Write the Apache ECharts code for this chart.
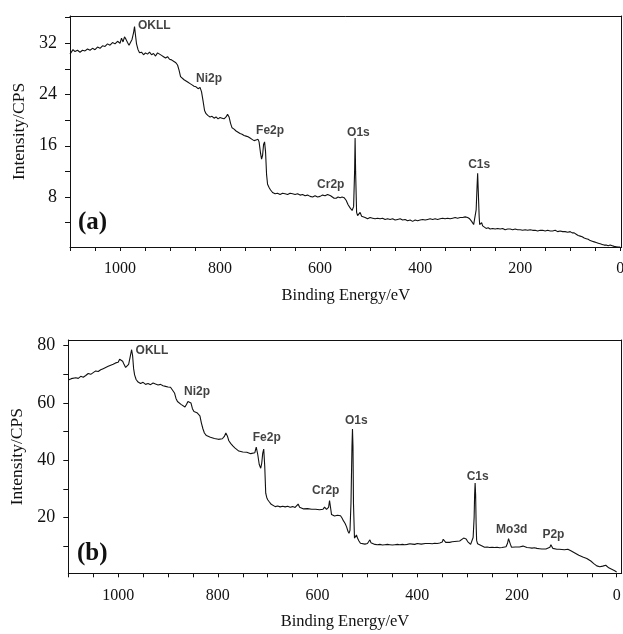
<!DOCTYPE html>
<html>
<head>
<meta charset="utf-8">
<script src="https://cdn.jsdelivr.net/npm/echarts@6/dist/echarts.min.js"></script>
<style>
  html, body { margin: 0; padding: 0; background: #fff; }
  #chart { width: 623px; height: 634px; }
</style>
</head>
<body>
<div id="chart"></div>
<script>
// XPS survey spectra, [binding energy eV, intensity CPS]
var spectrumA = [
  [1100, 30.3], [1097, 30.1], [1094, 31.0], [1090, 30.7], [1085, 30.9], [1080, 30.6], [1075, 30.9],
  [1070, 30.8], [1065, 31.1], [1060, 30.9], [1055, 31.2], [1050, 31.0], [1045, 31.4], [1040, 31.2],
  [1035, 31.6], [1030, 31.5], [1025, 31.9], [1020, 31.7], [1015, 32.1], [1010, 31.9], [1005, 32.3],
  [1000, 32.0], [997, 32.8], [994, 32.2], [991, 33.0], [988, 32.6], [985, 32.1], [982, 31.7],
  [979, 32.0], [976, 32.6], [973, 33.6], [971, 34.6], [969, 33.2], [967, 31.9], [964, 31.0],
  [961, 30.5], [957, 30.6], [953, 30.2], [949, 30.5], [945, 30.3], [941, 30.6], [937, 30.2],
  [933, 30.4], [929, 30.0], [925, 30.5], [921, 30.3], [917, 30.1], [913, 29.9], [909, 29.7],
  [905, 29.9], [901, 29.5], [897, 29.4], [893, 29.2], [889, 29.0], [885, 28.6], [882, 27.8],
  [879, 26.8], [876, 26.5], [872, 26.3], [868, 26.1], [864, 25.9], [860, 25.7], [856, 25.5],
  [852, 25.3], [848, 25.2], [844, 24.9], [840, 25.1], [837, 24.4], [834, 23.0], [831, 21.5],
  [828, 21.0], [824, 20.7], [820, 20.5], [816, 20.6], [812, 20.3], [808, 20.5], [804, 20.2],
  [800, 20.4], [796, 20.3], [792, 20.2], [788, 20.5], [785, 20.9], [782, 20.5], [779, 19.5],
  [776, 18.8], [772, 18.6], [768, 18.3], [764, 18.1], [760, 17.9], [756, 17.8], [752, 17.6],
  [748, 17.5], [744, 17.4], [740, 17.2], [736, 17.0], [732, 16.8], [728, 16.9], [724, 17.0],
  [722, 16.6], [719, 14.8], [717, 13.9], [715, 14.5], [713, 16.2], [711, 16.6], [709, 15.0],
  [707, 11.5], [705, 10.0], [702, 9.5], [699, 9.1], [695, 8.7], [690, 8.5], [685, 8.6],
  [680, 8.4], [675, 8.6], [670, 8.5], [665, 8.4], [660, 8.6], [655, 8.5], [650, 8.4],
  [645, 8.5], [640, 8.3], [635, 8.4], [630, 8.2], [625, 8.3], [620, 8.1], [615, 8.0],
  [610, 8.2], [605, 8.0], [600, 8.1], [595, 8.3], [590, 8.2], [585, 8.4], [582, 8.6],
  [579, 8.2], [576, 8.4], [572, 7.8], [568, 7.8], [564, 8.0], [560, 7.9], [556, 8.0],
  [552, 7.9], [548, 7.5], [544, 6.8], [540, 6.3], [536, 5.9], [533, 6.5], [531, 12.0],
  [530, 17.2], [529, 12.0], [527, 5.6], [525, 5.1], [522, 5.3], [520, 5.6], [517, 5.0],
  [514, 4.7], [510, 4.8], [505, 4.6], [500, 4.8], [495, 4.7], [490, 4.6], [485, 4.7],
  [480, 4.6], [475, 4.7], [470, 4.5], [465, 4.6], [460, 4.5], [455, 4.6], [450, 4.4],
  [445, 4.5], [440, 4.6], [435, 4.4], [430, 4.5], [425, 4.3], [420, 4.4], [415, 4.2],
  [410, 4.4], [405, 4.3], [400, 4.4], [395, 4.5], [390, 4.4], [385, 4.5], [380, 4.6],
  [375, 4.5], [370, 4.6], [365, 4.5], [360, 4.6], [355, 4.7], [350, 4.6], [345, 4.7],
  [340, 4.6], [335, 4.7], [330, 4.8], [325, 4.7], [320, 4.8], [315, 4.8], [310, 4.9],
  [305, 4.8], [301, 4.6], [297, 4.2], [293, 3.7], [290, 4.0], [288, 6.0], [286, 10.0],
  [285, 11.7], [284, 9.5], [282, 5.0], [281, 3.7], [279, 3.9], [277, 4.0], [275, 3.5],
  [272, 3.2], [268, 3.1], [264, 3.2], [260, 3.0], [255, 3.1], [250, 3.0], [245, 3.1],
  [240, 3.0], [235, 3.1], [230, 2.9], [225, 3.0], [220, 3.0], [215, 2.9], [210, 3.0],
  [205, 2.9], [200, 2.9], [195, 2.8], [190, 2.9], [185, 2.8], [180, 2.9], [175, 2.8],
  [170, 2.8], [165, 2.7], [160, 2.8], [155, 2.8], [150, 2.7], [145, 2.8], [140, 2.7],
  [135, 2.7], [130, 2.8], [125, 2.6], [120, 2.7], [115, 2.6], [110, 2.6], [105, 2.5],
  [100, 2.6], [96, 2.4], [92, 2.4], [88, 2.2], [84, 2.0], [80, 1.9], [76, 1.8],
  [72, 1.6], [68, 1.5], [64, 1.4], [60, 1.2], [56, 1.1], [52, 1.0], [48, 0.9],
  [44, 0.8], [40, 0.7], [36, 0.6], [32, 0.5], [28, 0.5], [24, 0.4], [20, 0.5],
  [16, 0.4], [12, 0.3], [8, 0.25], [4, 0.2], [0, 0.2]
];

var spectrumB = [
  [1100, 68.0], [1097, 67.6], [1094, 68.5], [1090, 68.3], [1085, 68.8], [1080, 68.6], [1075, 69.3],
  [1070, 69.0], [1065, 69.6], [1060, 70.3], [1055, 70.0], [1050, 70.6], [1045, 71.2], [1040, 71.0],
  [1035, 71.6], [1030, 72.0], [1025, 72.4], [1020, 72.8], [1015, 73.2], [1010, 73.5], [1005, 74.0],
  [1000, 74.2], [997, 75.3], [994, 75.8], [991, 74.6], [988, 73.4], [985, 72.4], [982, 72.2],
  [979, 73.5], [976, 76.0], [973, 78.6], [971, 76.5], [969, 72.0], [967, 69.8], [964, 68.2],
  [960, 67.3], [955, 66.8], [950, 67.2], [945, 66.5], [940, 66.8], [935, 66.4], [930, 67.0],
  [925, 66.6], [920, 66.3], [915, 66.5], [910, 66.0], [905, 65.8], [900, 65.6], [895, 65.5],
  [891, 65.0], [887, 63.5], [884, 61.6], [881, 60.5], [878, 60.0], [874, 59.5], [870, 59.0],
  [866, 58.6], [863, 59.5], [860, 60.5], [857, 60.8], [854, 60.0], [851, 58.0], [848, 57.0],
  [845, 57.2], [842, 56.6], [839, 56.9], [836, 55.5], [833, 53.0], [830, 51.0], [827, 49.5],
  [823, 48.6], [819, 48.3], [815, 48.0], [811, 48.2], [807, 47.6], [803, 47.8], [799, 47.3],
  [795, 47.6], [791, 47.5], [787, 48.3], [784, 49.5], [781, 48.5], [778, 46.8], [774, 45.8],
  [770, 45.0], [766, 44.3], [762, 43.8], [758, 43.2], [754, 43.0], [750, 42.9], [746, 42.7],
  [742, 42.8], [738, 42.5], [734, 42.3], [730, 42.2], [726, 42.6], [723, 44.6], [720, 42.0],
  [717, 38.5], [714, 37.2], [712, 39.0], [710, 42.5], [708, 43.9], [706, 38.0], [704, 28.5],
  [702, 27.0], [700, 26.2], [697, 25.5], [693, 24.6], [689, 24.1], [685, 23.8], [680, 24.0],
  [675, 23.7], [670, 23.9], [665, 23.7], [660, 23.9], [655, 23.6], [650, 23.8], [645, 23.5],
  [641, 23.9], [639, 24.7], [636, 23.6], [632, 23.1], [628, 23.0], [624, 22.9], [620, 23.1],
  [616, 22.8], [612, 22.9], [608, 22.7], [604, 22.9], [600, 22.6], [596, 22.7], [592, 22.5],
  [589, 22.9], [586, 23.6], [584, 24.1], [582, 22.8], [580, 22.2], [578, 23.5], [576, 25.9],
  [574, 23.5], [572, 21.0], [569, 20.6], [566, 20.5], [563, 20.6], [560, 20.8], [557, 20.9],
  [554, 20.6], [551, 19.8], [548, 18.8], [545, 18.0], [542, 16.8], [539, 15.2], [537, 14.5],
  [535, 15.5], [533, 25.0], [531, 45.0], [530, 50.9], [529, 45.0], [528, 25.0], [526, 12.8],
  [524, 13.0], [522, 13.9], [520, 12.8], [517, 11.8], [514, 11.0], [510, 10.8], [505, 10.7],
  [500, 10.9], [497, 11.4], [495, 12.2], [493, 11.2], [490, 10.7], [485, 10.6], [480, 10.5],
  [475, 10.6], [470, 10.4], [465, 10.5], [460, 10.6], [455, 10.5], [450, 10.4], [445, 10.5],
  [440, 10.6], [435, 10.5], [430, 10.6], [425, 10.5], [420, 10.6], [415, 10.8], [410, 10.7],
  [405, 10.6], [400, 10.9], [396, 10.8], [392, 10.7], [388, 10.8], [384, 10.9], [380, 10.8],
  [375, 10.9], [370, 10.8], [365, 11.0], [360, 10.9], [355, 11.1], [350, 11.4], [348, 12.4],
  [346, 12.0], [343, 11.3], [340, 11.2], [335, 11.3], [330, 11.5], [325, 11.6], [320, 11.7],
  [315, 11.8], [311, 12.2], [307, 12.8], [305, 13.3], [302, 12.5], [299, 11.6], [296, 11.0],
  [293, 10.6], [290, 11.2], [288, 13.0], [286, 20.0], [285, 28.0], [284, 32.0], [283, 28.0],
  [282, 18.0], [281, 12.0], [279, 10.8], [277, 10.5], [275, 10.9], [272, 10.2], [269, 9.8],
  [265, 9.6], [260, 9.7], [255, 9.5], [250, 9.6], [245, 9.5], [240, 9.6], [235, 9.4],
  [230, 9.5], [226, 9.4], [222, 9.8], [219, 11.0], [217, 12.6], [215, 12.8], [213, 10.5],
  [211, 9.6], [207, 9.5], [203, 9.7], [199, 9.5], [195, 9.7], [191, 9.6], [188, 10.0],
  [185, 9.6], [180, 9.5], [175, 9.4], [170, 9.3], [165, 9.4], [160, 9.2], [155, 9.1],
  [150, 9.0], [146, 9.1], [142, 9.0], [138, 9.2], [134, 9.6], [132, 10.5], [130, 10.2],
  [128, 9.2], [125, 9.0], [120, 8.9], [115, 8.9], [110, 8.8], [105, 8.7], [101, 8.6],
  [98, 8.9], [95, 9.0], [92, 8.4], [88, 8.0], [84, 7.6], [80, 7.1], [76, 6.8],
  [72, 6.5], [68, 6.2], [64, 6.0], [60, 5.7], [56, 5.3], [52, 4.8], [49, 4.4],
  [46, 3.9], [43, 3.4], [40, 3.1], [37, 2.9], [34, 2.8], [31, 2.8], [28, 3.0],
  [25, 3.2], [22, 3.3], [19, 2.9], [16, 2.4], [13, 2.0], [10, 1.9], [7, 1.7],
  [4, 1.4], [1, 1.1], [0, 0.9]
];

// peak annotations: [energy at label's left edge, intensity at label's middle, text]
var peaksA = [
  [964, 34.7, "OKLL"], [848, 26.4, "Ni2p"], [728, 18.3, "Fe2p"],
  [606, 10.0, "Cr2p"], [546, 18.05, "O1s"], [304, 13.0, "C1s"]
];
var peaksB = [
  [965, 78.4, "OKLL"], [868, 63.9, "Ni2p"], [730, 48.0, "Fe2p"], [611, 29.3, "Cr2p"],
  [545, 53.8, "O1s"], [301, 34.3, "C1s"], [242, 15.7, "Mo3d"], [149, 13.9, "P2p"]
];

var energyTicks = [0, 50, 100, 150, 200, 250, 300, 350, 400, 450, 500, 550,
  600, 650, 700, 750, 800, 850, 900, 950, 1000, 1050, 1100];
var energyLabels = [0, 200, 400, 600, 800, 1000];
var ticksA = [4, 8, 12, 16, 20, 24, 28, 32, 36];
var labelsA = [8, 16, 24, 32];
var ticksB = [10, 20, 30, 40, 50, 60, 70, 80];
var labelsB = [20, 40, 60, 80];

var serif = "'Liberation Serif', 'Times New Roman', serif";
var sans = "'Liberation Sans', Arial, sans-serif";

function plainNumber(v) {
  return String(Math.round(v));
}

function makeXAxis(gridIndex, minE) {
  return {
    type: "value",
    gridIndex: gridIndex,
    position: "bottom",
    inverse: true,
    min: minE,
    max: 1100,
    name: "Binding Energy/eV",
    nameLocation: "middle",
    nameGap: 40,
    nameTextStyle: { fontFamily: serif, fontSize: 16.5, color: "#111" },
    axisLine: { onZero: false, lineStyle: { color: "#111", width: 1 } },
    axisTick: { customValues: energyTicks, length: 4, lineStyle: { color: "#111" } },
    axisLabel: {
      customValues: energyLabels, formatter: plainNumber, hideOverlap: false,
      fontFamily: serif, fontSize: 16, color: "#111", margin: 14
    },
    splitLine: { show: false }
  };
}

function makeYAxis(gridIndex, minV, maxV, ticks, labels, gap) {
  return {
    type: "value",
    gridIndex: gridIndex,
    position: "left",
    min: minV,
    max: maxV,
    name: "Intensity/CPS",
    nameLocation: "middle",
    nameGap: gap,
    nameTextStyle: { fontFamily: serif, fontSize: 17.5, color: "#111" },
    axisLine: { onZero: false, lineStyle: { color: "#111", width: 1 } },
    axisTick: { customValues: ticks, length: 5, lineStyle: { color: "#111" } },
    axisLabel: {
      customValues: labels, formatter: plainNumber,
      fontFamily: serif, fontSize: 18, color: "#111", margin: 13
    },
    splitLine: { show: false }
  };
}

// plain frame edges (top and right) without ticks or labels
function frameAxis(gridIndex, position) {
  return {
    type: "value",
    gridIndex: gridIndex,
    position: position,
    min: 0,
    max: 1,
    axisLine: { show: true, onZero: false, lineStyle: { color: "#111", width: 1 } },
    axisTick: { show: false },
    axisLabel: { show: false },
    splitLine: { show: false }
  };
}

function spectrumSeries(index, data) {
  return {
    type: "line",
    xAxisIndex: index,
    yAxisIndex: index,
    data: data,
    showSymbol: false,
    symbol: "none",
    silent: true,
    lineStyle: { color: "#111", width: 1.1 },
    z: 3
  };
}

function peakSeries(index, data) {
  return {
    type: "scatter",
    xAxisIndex: index,
    yAxisIndex: index,
    data: data,
    symbolSize: 0,
    silent: true,
    label: {
      show: true,
      position: "right",
      distance: 0,
      formatter: function (p) { return p.data[2]; },
      fontFamily: sans,
      fontWeight: "bold",
      fontSize: 12,
      color: "#111"
    },
    z: 4
  };
}

var dom = document.getElementById("chart");
var myChart = echarts.init(dom, null, { renderer: "canvas" });

var option = {
  animation: false,
  backgroundColor: "#fff",
  grid: [
    { left: 70, top: 16, width: 551.7, height: 231, outerBoundsMode: "none", containLabel: false },
    { left: 68.3, top: 340, width: 553.4, height: 233.3, outerBoundsMode: "none", containLabel: false }
  ],
  xAxis: [
    makeXAxis(0, -3),
    makeXAxis(1, -10),
    frameAxis(0, "top"),
    frameAxis(1, "top")
  ],
  yAxis: [
    makeYAxis(0, 0.2, 36.25, ticksA, labelsA, 37),
    makeYAxis(1, 0.5, 82, ticksB, labelsB, 41),
    frameAxis(0, "right"),
    frameAxis(1, "right")
  ],
  graphic: [
    { type: "text", left: 78, top: 210, style: { text: "(a)", font: "bold 25px " + serif, fill: "#111" } },
    { type: "text", left: 77, top: 541, style: { text: "(b)", font: "bold 25px " + serif, fill: "#111" } }
  ],
  series: [
    spectrumSeries(0, spectrumA),
    spectrumSeries(1, spectrumB),
    peakSeries(0, peaksA),
    peakSeries(1, peaksB)
  ]
};

myChart.setOption(option);
</script>
</body>
</html>
